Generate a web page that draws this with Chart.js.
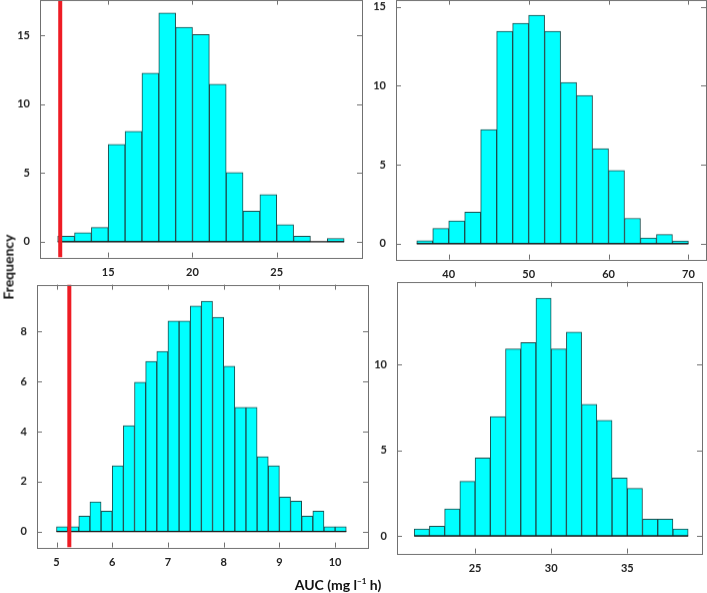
<!DOCTYPE html>
<html>
<head>
<meta charset="utf-8">
<script src="https://cdn.jsdelivr.net/npm/chart.js@4/dist/chart.umd.min.js"></script>
<style>
    body { margin: 0; background: #fff; width: 707px; height: 593px; position: relative; overflow: hidden; }
    canvas { position: absolute; }
    .lbl { position: absolute; font-family: Lato, sans-serif; font-weight: bold; font-size: 14px; color: #111; white-space: nowrap; }
    #ylabel { left: 8px; top: 267px; transform: translate(-50%, -50%) rotate(-90deg); }
    #xlabel { left: 338px; top: 584px; transform: translate(-50%, -50%); }
    sup { font-size: 8px; }
</style>
</head>
<body>
<canvas id="panel1"></canvas>
<canvas id="panel2"></canvas>
<canvas id="panel3"></canvas>
<canvas id="panel4"></canvas>
<div class="lbl" id="ylabel">Frequency</div>
<div class="lbl" id="xlabel">AUC (mg l<sup>−1</sup> h)</div>

<script>
// Top left: bins of width 1 starting at 12
const p1Start = 12;
const p1Width = 1;
const p1Counts = [0.41, 0.66, 1.04, 7.07, 8.02, 12.25, 16.63, 15.6, 15.07, 11.45, 5.03, 2.23, 3.43, 1.24, 0.41, 0, 0.24];
const p1XTicks = [15, 20, 25];
const p1YTicks = [0, 5, 10, 15];
const p1Line = 12.15;

// Top right: bins of width 2 starting at 36
const p2Start = 36;
const p2Width = 2;
const p2Counts = [0.19, 0.97, 1.44, 2.01, 7.22, 13.45, 13.96, 14.47, 13.45, 10.21, 9.39, 6.02, 4.64, 1.61, 0.36, 0.59, 0.17];
const p2XTicks = [40, 50, 60, 70];
const p2YTicks = [0, 5, 10, 15];

// Bottom left: bins of width 0.2 starting at 5
const p3Start = 5;
const p3Width = 0.2;
const p3Counts = [0.19, 0.19, 0.62, 1.19, 0.82, 2.63, 4.24, 5.98, 6.81, 7.21, 8.43, 8.43, 9.03, 9.22, 8.58, 6.62,
                  4.97, 4.97, 2.99, 2.63, 1.38, 1.22, 0.62, 0.82, 0.19, 0.19];
const p3XTicks = [5, 6, 7, 8, 9, 10];
const p3YTicks = [0, 2, 4, 6, 8];
const p3Line = 5.23;

// Bottom right: bins of width 1 starting at 21
const p4Start = 21;
const p4Width = 1;
const p4Counts = [0.41, 0.57, 1.59, 3.19, 4.56, 6.97, 10.92, 11.29, 13.87, 10.92, 11.9, 7.69, 6.75, 3.39, 2.78, 0.98, 0.98, 0.41];
const p4XTicks = [25, 30, 35];
const p4YTicks = [0, 5, 10];

const BAR_FILL = '#00ffff';
const BAR_EDGE = '#1d4d4d';
const FRAME = '#707070';
const RED = '#ee1c24';

// box around plot area with inward tick marks on all four sides
const framePlugin = {
    id: 'frame',
    afterDraw(chart) {
        const ctx = chart.ctx;
        const a = chart.chartArea;
        const len = 5;
        ctx.save();
        ctx.strokeStyle = FRAME;
        ctx.lineWidth = 1;
        ctx.strokeRect(Math.round(a.left) + 0.5, Math.round(a.top) + 0.5,
                       Math.round(a.right - a.left), Math.round(a.bottom - a.top));
        ctx.beginPath();
        chart.scales.x.ticks.forEach((t) => {
            const px = Math.round(chart.scales.x.getPixelForValue(t.value)) + 0.5;
            ctx.moveTo(px, a.bottom); ctx.lineTo(px, a.bottom - len);
            ctx.moveTo(px, a.top); ctx.lineTo(px, a.top + len);
        });
        chart.scales.y.ticks.forEach((t) => {
            const py = Math.round(chart.scales.y.getPixelForValue(t.value)) + 0.5;
            ctx.moveTo(a.left, py); ctx.lineTo(a.left + len, py);
            ctx.moveTo(a.right, py); ctx.lineTo(a.right - len, py);
        });
        ctx.stroke();
        ctx.restore();
    }
};

function makeHist(id, box, start, width, counts, xTicks, yTicks, xRange, yRange, redX) {
    const canvas = document.getElementById(id);
    const padL = 45, padT = 12, padR = 8, padB = 28;
    canvas.width = (box.r - box.l) + padL + padR;
    canvas.height = (box.b - box.t) + padT + padB;

    const bars = counts.map((c, i) => ({ x: start + (i + 0.5) * width, y: c }));
    const end = start + counts.length * width;

    const datasets = [{
        type: 'bar',
        data: bars,
        backgroundColor: BAR_FILL,
        borderColor: BAR_EDGE,
        borderWidth: 1,
        borderSkipped: false,
        barPercentage: 1,
        categoryPercentage: 1,
        order: 3
    }, {
        type: 'line',
        data: [{ x: start, y: 0 }, { x: end, y: 0 }],
        borderColor: '#111',
        borderWidth: 1.2,
        pointRadius: 0,
        order: 2
    }];
    if (redX !== undefined) {
        datasets.push({
            type: 'line',
            data: [{ x: redX, y: yRange[0] }, { x: redX, y: yRange[1] }],
            borderColor: RED,
            borderWidth: 4,
            pointRadius: 0,
            clip: 0,
            order: 1
        });
    }

    const tickFont = { family: 'Lato', weight: 'bold', size: 11 };

    const chart = new Chart(canvas.getContext('2d'), {
        type: 'bar',
        data: { datasets: datasets },
        options: {
            responsive: false,
            maintainAspectRatio: false,
            animation: false,
            devicePixelRatio: 1,
            layout: { padding: { top: padT, right: padR, left: 0, bottom: 0 } },
            plugins: { legend: { display: false }, tooltip: { enabled: false } },
            scales: {
                x: {
                    type: 'linear',
                    offset: false,
                    min: xRange[0],
                    max: xRange[1],
                    grid: { display: false, drawTicks: false },
                    border: { display: false },
                    ticks: { font: tickFont, color: '#222', padding: 8, maxRotation: 0 },
                    afterBuildTicks: (s) => { s.ticks = xTicks.map(v => ({ value: v })); },
                    afterFit: (s) => { s.height = padB; }
                },
                y: {
                    min: yRange[0],
                    max: yRange[1],
                    grid: { display: false, drawTicks: false },
                    border: { display: false },
                    ticks: { font: tickFont, color: '#222', padding: 10 },
                    afterBuildTicks: (s) => { s.ticks = yTicks.map(v => ({ value: v })); },
                    afterFit: (s) => { s.width = padL; }
                }
            }
        },
        plugins: [framePlugin]
    });

    // grow the canvas so the plot box gets the wanted size, then line it up on the page
    let a = chart.chartArea;
    const dw = (box.r - box.l) - (a.right - a.left);
    const dh = (box.b - box.t) - (a.bottom - a.top);
    if (dw !== 0 || dh !== 0) {
        chart.resize(canvas.width + dw, canvas.height + dh);
        a = chart.chartArea;
    }
    canvas.style.left = (box.l - a.left) + 'px';
    canvas.style.top = (box.t - a.top) + 'px';
    return chart;
}

makeHist('panel1', { l: 40, t: 0, r: 362, b: 257 }, p1Start, p1Width, p1Counts,
         p1XTicks, p1YTicks, [10.95, 30.06], [-1.15, 17.6], p1Line);
makeHist('panel2', { l: 396, t: 0, r: 706, b: 259 }, p2Start, p2Width, p2Counts,
         p2XTicks, p2YTicks, [33.4, 72.2], [-1.0, 15.45]);
makeHist('panel3', { l: 37, t: 285, r: 368, b: 547 }, p3Start, p3Width, p3Counts,
         p3XTicks, p3YTicks, [4.65, 10.59], [-0.64, 9.88], p3Line);
makeHist('panel4', { l: 397, t: 282, r: 702, b: 553 }, p4Start, p4Width, p4Counts,
         p4XTicks, p4YTicks, [19.87, 39.91], [-1.02, 14.84]);
</script>
</body>
</html>
